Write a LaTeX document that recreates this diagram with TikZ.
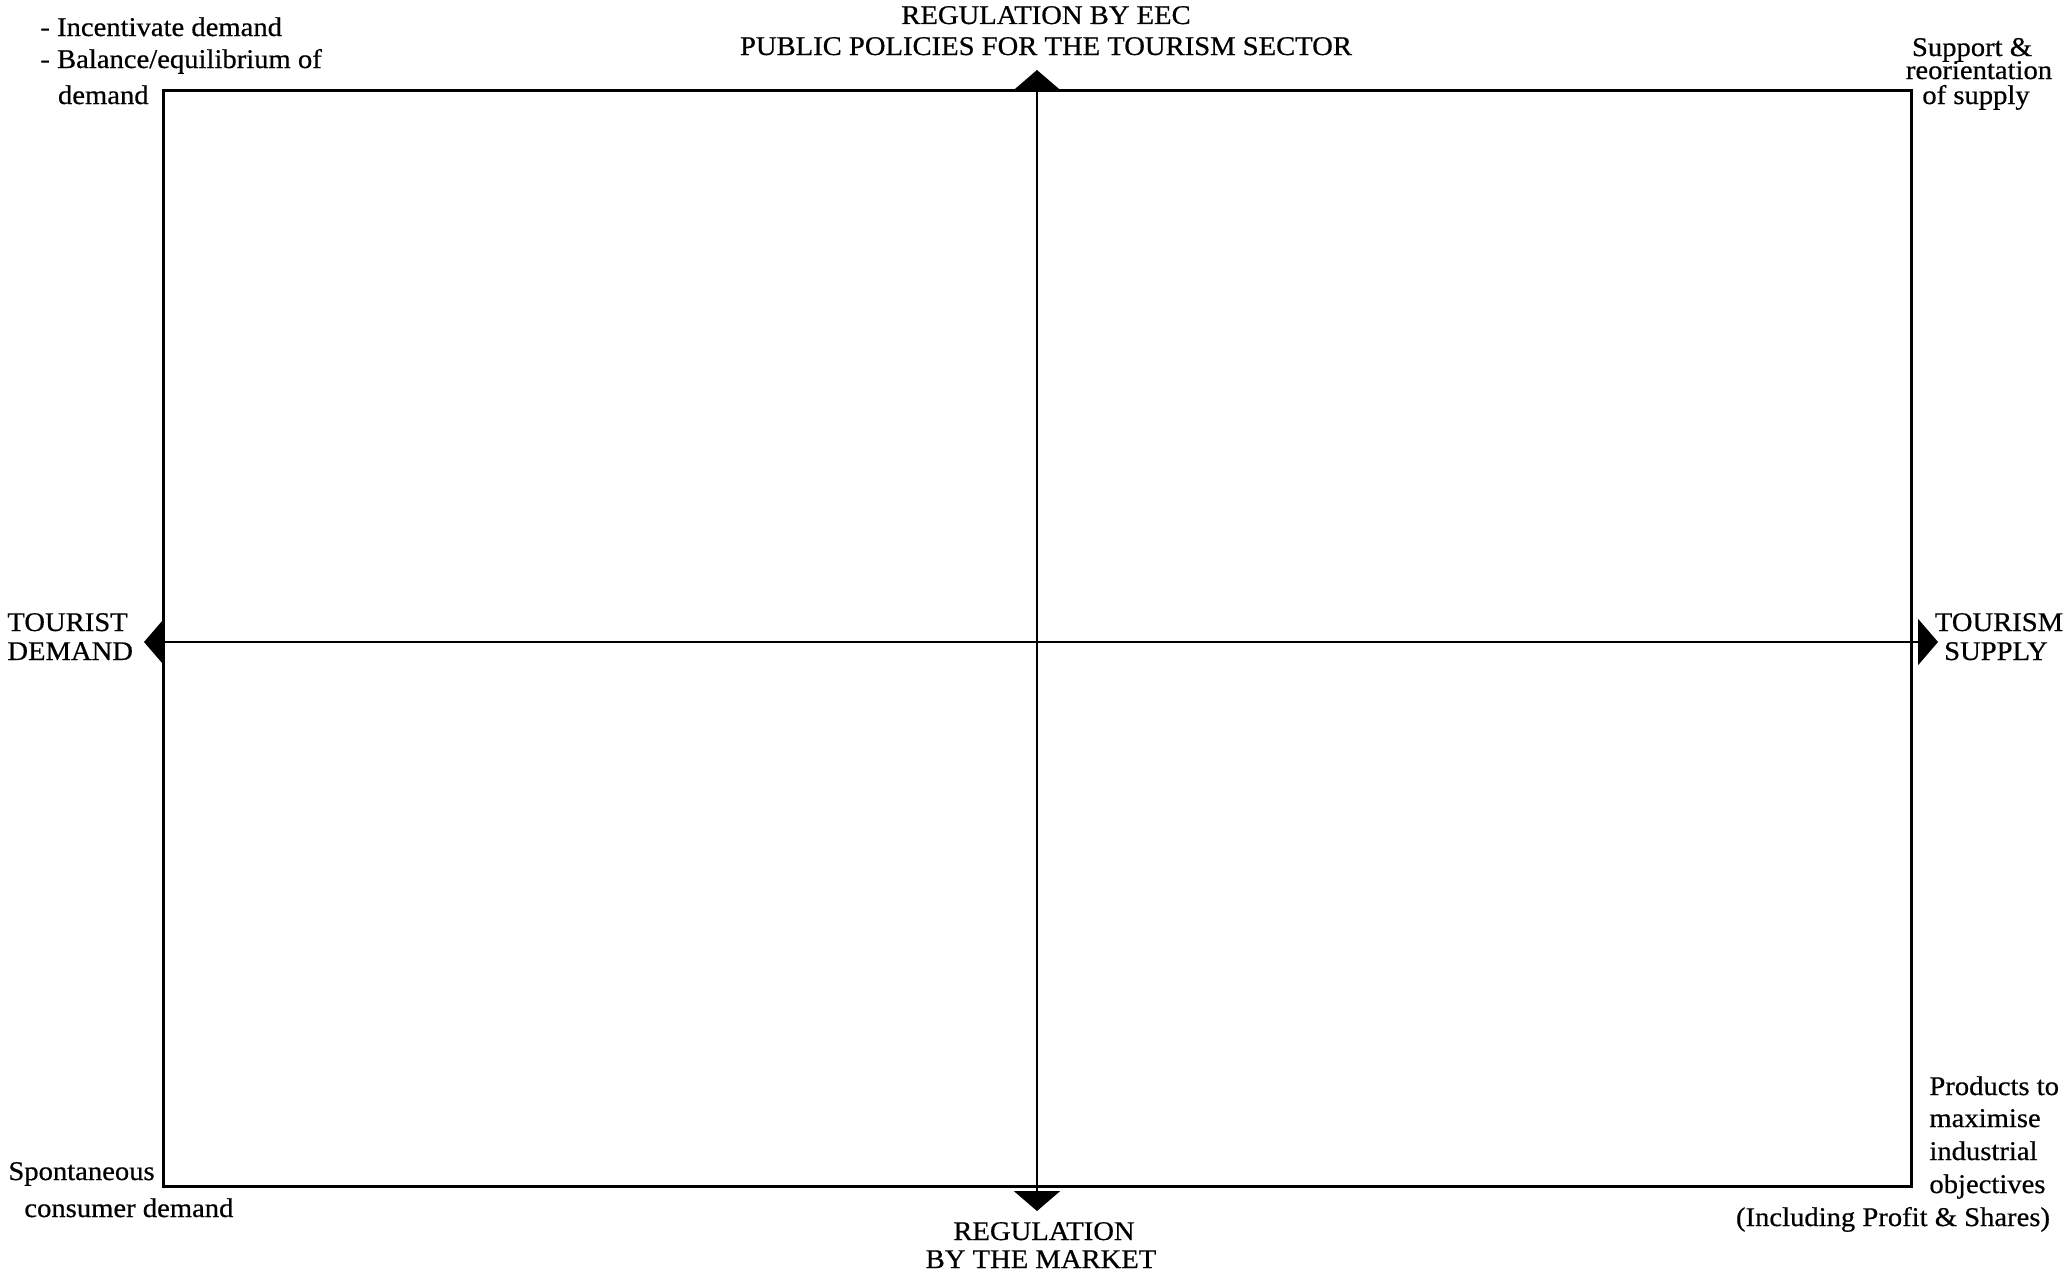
\documentclass[tikz,border=0pt]{standalone}
\usepackage{fontspec}
\setmainfont{Liberation Serif}[FakeStretch=1.06,FakeBold=0.6]
\usetikzlibrary{arrows.meta}
\begin{document}
\begin{tikzpicture}[x=0.5pt,y=-0.5pt,
  lbl/.style={inner sep=0pt,font=\fontsize{13.5}{15}\selectfont},
  axis/.style={line width=1.25pt,{Triangle[width=23pt,length=10pt]}-{Triangle[width=23pt,length=10pt]}},
  frame/.style={line width=1.5pt}]
\useasboundingbox (0,0) rectangle (2066,1274);
% frame
\coordinate (tl) at (163,90);
\coordinate (br) at (1911,1186);
\draw[frame] (tl) rectangle (br);
% axes
\coordinate (atop) at (1037,70);
\coordinate (abot) at (1037,1211);
\coordinate (aleft) at (144,642);
\coordinate (aright) at (1938,642);
\draw[axis] (abot) -- (atop);
\draw[axis] (aleft) -- (aright);
% labels
\node[lbl,anchor=base west] (tl1) at (40,36) {- Incentivate demand};
\node[lbl,anchor=base west] (tl2) at (40,68) {- Balance/equilibrium of};
\node[lbl,anchor=base east] (tl3) at (149,104) {demand};
\node[lbl,anchor=base] (t1) at (1046,24) {REGULATION BY EEC};
\node[lbl,anchor=base] (t2) at (1046,55) {PUBLIC POLICIES FOR THE TOURISM SECTOR};
\node[lbl,anchor=base] (tr1) at (1972,56) {Support \&};
\node[lbl,anchor=base] (tr2) at (1979,79) {reorientation};
\node[lbl,anchor=base] (tr3) at (1976,104) {of supply};
\node[lbl,anchor=base west] (l1) at (7,631) {TOURIST};
\node[lbl,anchor=base west] (l2) at (7,660) {DEMAND};
\node[lbl,anchor=base] (r1) at (1999,631) {TOURISM};
\node[lbl,anchor=base] (r2) at (1996,660) {SUPPLY};
\node[lbl,anchor=base] (b1) at (1044,1240) {REGULATION};
\node[lbl,anchor=base] (b2) at (1041,1268) {BY THE MARKET};
\node[lbl,anchor=base west] (bl1) at (8,1180) {Spontaneous};
\node[lbl,anchor=base west] (bl2) at (24,1217) {consumer demand};
\node[lbl,anchor=base west] (br1) at (1929,1095) {Products to};
\node[lbl,anchor=base west] (br2) at (1929,1127) {maximise};
\node[lbl,anchor=base west] (br3) at (1929,1160) {industrial};
\node[lbl,anchor=base west] (br4) at (1929,1193) {objectives};
\node[lbl,anchor=base] (br5) at (1893,1226) {(Including Profit \& Shares)};
\end{tikzpicture}
\end{document}
